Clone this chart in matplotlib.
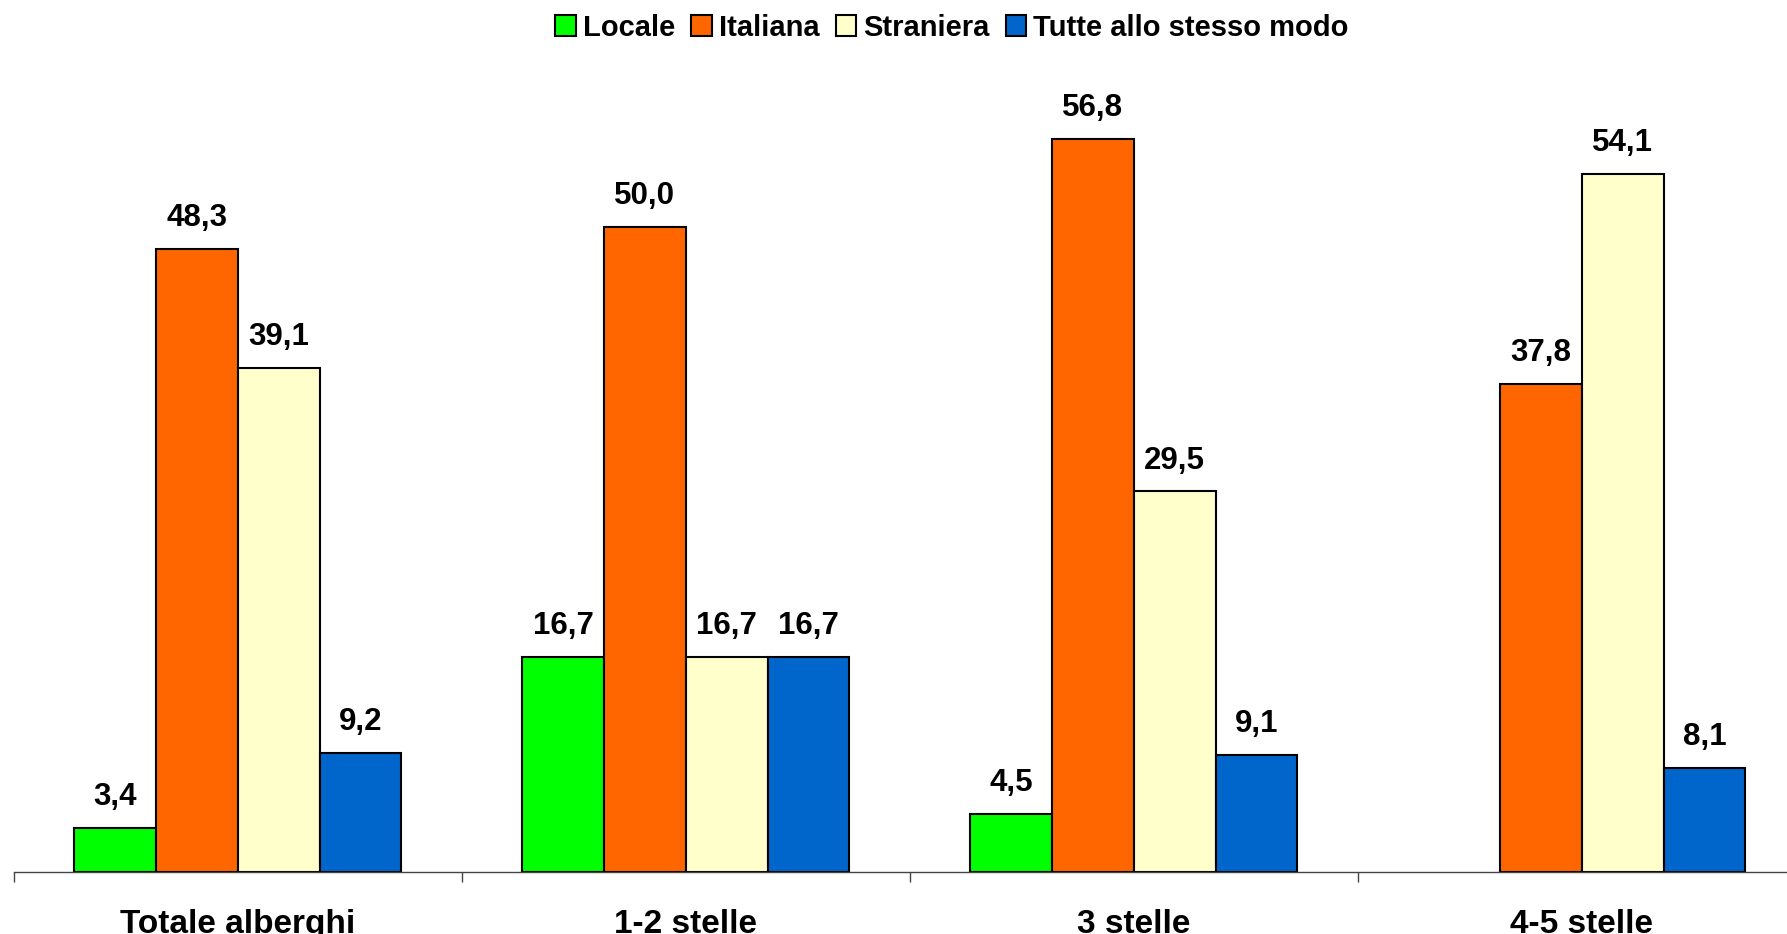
import matplotlib
matplotlib.use("Agg")
import matplotlib.pyplot as plt
import numpy as np

categories = ["Totale alberghi", "1-2 stelle", "3 stelle", "4-5 stelle"]
series_names = ["Locale", "Italiana", "Straniera", "Tutte allo stesso modo"]
locale = [3.4, 16.7, 4.5, None]
italiana = [48.3, 50.0, 56.8, 37.8]
straniera = [39.1, 16.7, 29.5, 54.1]
tutte = [9.2, 16.7, 9.1, 8.1]
colors = ["#00FF00", "#FF6600", "#FFFFCC", "#0066CC"]

plt.rcParams['font.family'] = ['Liberation Sans', 'DejaVu Sans']
plt.rcParams['font.weight'] = 'bold'

W, H = 1787, 934
fig = plt.figure(figsize=(W / 100, H / 100), dpi=100)
ax = fig.add_axes([13.7 / W, 1 - 872 / H, 1792 / W, 774 / H])

x = np.arange(len(categories))
bw = 0.1826
all_series = [locale, italiana, straniera, tutte]
handles = []
for i, (vals, name, col) in enumerate(zip(all_series, series_names, colors)):
    xs = x + (i - 1.5) * bw
    bars = ax.bar(xs, [0 if v is None else v for v in vals], width=bw, color=col,
                  edgecolor='black', linewidth=1.5, label=name)
    for b, v in zip(bars, vals):
        if v is None:
            b.set_visible(False)
            continue
        ax.annotate(f"{v:.1f}".replace('.', ','), (b.get_x() + b.get_width() / 2, v),
                    xytext=(0, 16.5), textcoords='offset points', ha='center', va='baseline',
                    fontsize=22.5, fontweight='bold')
    handles.append(bars)

ax.set_xlim(-0.5, 3.5)
ax.set_ylim(0, 60)
for s in ['top', 'right', 'left']:
    ax.spines[s].set_visible(False)
ax.spines['bottom'].set_color('#444444')
ax.spines['bottom'].set_linewidth(1.0)
ax.set_yticks([])
ax.set_xticks(np.arange(-0.5, 3.6, 1.0))
ax.set_xticklabels([])
ax.tick_params(axis='x', which='major', length=7, width=1, color='#444444', direction='out')
ax.set_xticks(x, minor=True)
ax.set_xticklabels(categories, minor=True, fontsize=24, fontweight='bold')
ax.tick_params(axis='x', which='minor', length=0, pad=26.5)

fig.legend(handles=handles, labels=series_names, loc='center',
           bbox_to_anchor=(952 / W, 1 - 27.5 / H), ncol=4, frameon=False,
           prop={'size': 21, 'weight': 'bold'}, handlelength=0.7, handleheight=0.7,
           handletextpad=0.25, columnspacing=0.55, borderaxespad=0)

fig.savefig("out.png", dpi=100)
